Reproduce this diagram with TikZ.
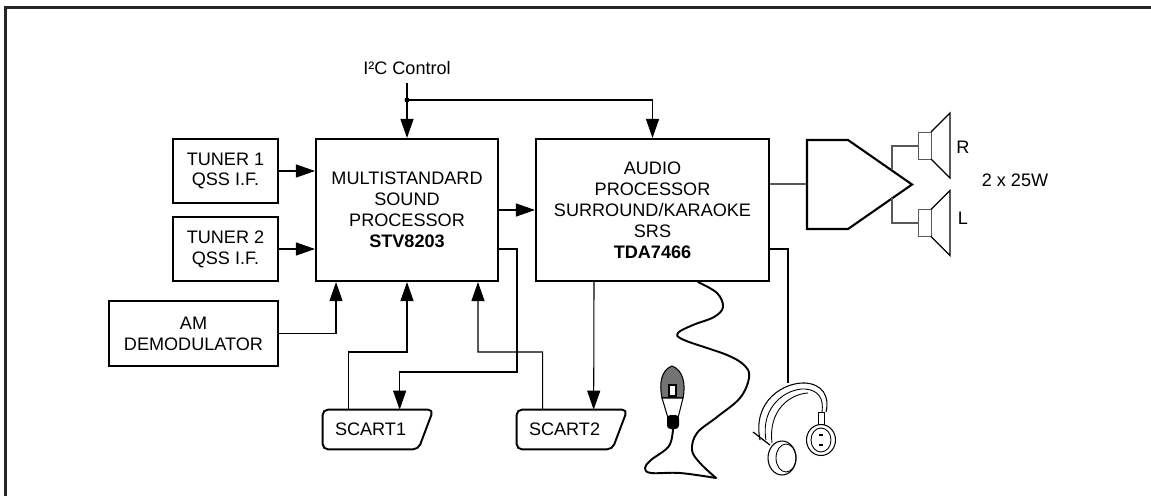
\documentclass[tikz,border=0pt]{standalone}
\usepackage{fontspec}
\setmainfont{Liberation Sans}
\usetikzlibrary{arrows.meta}

% outline of a scart plug round a node
\newcommand{\scartoutline}[1]{%
  \draw[line width=1.1pt, rounded corners=3pt] (#1.west) -- (#1.north west) -- (#1.north east)
    -- ([xshift=-0.3cm]#1.south east) -- (#1.south west) -- cycle;}

\begin{document}
\begin{tikzpicture}[x=0.02cm, y=-0.02cm,
    font=\fontsize{10.3}{11.9}\selectfont,
    blk/.style={draw, line width=1.2pt, align=center, inner sep=0pt},
    scart/.style={inner xsep=0pt, inner ysep=0pt, text width=2.2cm, align=left, minimum height=0.78cm},
    sig/.style={line width=0.6pt, -{Triangle[length=3.8mm,width=2.6mm]}},
    wire/.style={line width=0.6pt},
    cord/.style={line width=1.1pt, line cap=round, line join=round},
    spk/.pic={
      \draw[line width=0.5pt, black!65] (0,-13.5) rectangle (13,13.5);
      \draw[line width=0.7pt] (13,-13.5) -- (32,-32.5) -- (32,32.5) -- (13,13.5);
    }]
    \useasboundingbox (0,0) rectangle (1151,496);
    % frame
    \draw[line width=1.5pt, black!85] (5.3,496) -- (5.3,7.5) -- (1151,7.5);

    % blocks
    \node[blk, minimum width=2.1cm, minimum height=1.28cm] (tunerA) at (225.5,171) {TUNER 1\\QSS I.F.};
    \node[blk, minimum width=2.1cm, minimum height=1.28cm] (tunerB) at (225.5,249) {TUNER 2\\QSS I.F.};
    \node[blk, minimum width=3.38cm, minimum height=1.3cm] (amdem) at (193.5,333.5) {AM\\DEMODULATOR};
    \node[blk, minimum width=3.64cm, minimum height=2.84cm] (msp) at (407,210)
        {MULTISTANDARD\\SOUND\\PROCESSOR\\\textbf{STV8203}};
    \node[blk, minimum width=4.66cm, minimum height=2.84cm] (aproc) at (652.5,210)
        {AUDIO\\PROCESSOR\\SURROUND/KARAOKE\\SRS\\\textbf{TDA7466}};
    \node[inner sep=4.4pt] (i2c) at (407,68) {I²C Control};

    \node[scart] (scartA) at (378,429.5) {\hspace*{0.24cm}SCART1};
    \node[scart] (scartB) at (572,429.5) {\hspace*{0.24cm}SCART2};
    \scartoutline{scartA}
    \scartoutline{scartB}

    % inputs
    \draw[sig] (tunerA.east) -- (tunerA.east -| msp.west);
    \draw[sig] (tunerB.east) -- (tunerB.east -| msp.west);
    \draw[sig] (amdem.east) -| ([xshift=-1.42cm]msp.south);
    \draw[sig] (msp.east) -- (aproc.west);

    % I2C bus
    \coordinate (busdot) at (407,100);
    \draw[sig] (i2c.south) -- (msp.north);
    \fill (busdot) circle (2.5);
    \draw[sig] (busdot) -| (aproc.north);

    % scart connections
    \draw[sig] ([xshift=0.52cm]scartA.north west) |- (407,352) -- (msp.south);
    \draw[sig] ([xshift=0.52cm]scartB.north west) |- (478,352) -- ([xshift=1.42cm]msp.south);
    \draw[sig] ([yshift=-0.78cm]msp.east) -| (517,372) -| ([xshift=1.54cm]scartA.north west);
    \draw[sig] ([xshift=-1.17cm]aproc.south) -- ([xshift=1.54cm]scartB.north west);

    % power amplifier
    \draw[line width=1.2pt] (807,140) -- (848,140) -- (912,184.5) -- (848,229) -- (807,229) -- cycle;
    \coordinate (ampin) at (807,184);
    \draw[wire] ([yshift=0.52cm]aproc.east) -- (ampin);

    % loudspeakers
    \pic at (918,145.5) {spk};
    \pic at (918,223) {spk};
    \draw[wire, black!65] (892,170.3) |- (918,146);
    \draw[wire, black!65] (892,198) |- (918,223);
    \node (lblR) at (963,147) {R};
    \node (lblL) at (963,218) {L};
    \node (lblW) at (1015,180) {2 x 25W};

    % microphone
    \coordinate (cordtop) at ([xshift=0.91cm]aproc.south);
    \draw[cord] plot[smooth, tension=0.6] coordinates {(cordtop) (717,293) (723,307) (714,317) (693,325)
        (678,333) (684,340) (727,355) (745,366) (749,378) (740,398) (717,417) (697,433) (692,450)
        (700,463) (716,478)};
    \draw[cord] plot[smooth, tension=0.6] coordinates {(673,428) (669,446) (651,460) (645,468)
        (651,473) (680,473) (716,478)};
    \filldraw[fill=black!55, line width=0.6pt] (672,366) .. controls (661,370) and (659,384) .. (662,398)
        -- (683,398) .. controls (686,384) and (683,370) .. (672,366) -- cycle;
    \draw[fill=white, line width=0.6pt] (662,398) -- (668,418) -- (678,418) -- (683,398) -- cycle;
    \draw[fill=white, line width=0.6pt] (669,385) rectangle (676,396);
    \fill[rounded corners=2pt] (667,415) rectangle (679,429);

    % headphones
    \coordinate (phones) at (788,383);
    \draw[wire] ([yshift=-0.78cm]aproc.east) -| (phones);
    \draw[line width=0.6pt] (760,440) .. controls (752,400) and (785,382) .. (805,383)
        .. controls (822,384) and (830,396) .. (826,412);
    \draw[line width=0.5pt] (766,440) .. controls (760,405) and (788,388) .. (805,389)
        .. controls (818,390) and (824,398) .. (822,412);
    \draw[line width=0.5pt] (772,443) .. controls (768,410) and (790,394) .. (808,393);
    \draw[line width=0.5pt] (818,412) rectangle (824,426);
    \draw[line width=0.7pt] (753,432) -- (770,445);
    \draw[line width=0.6pt, fill=white] (782,458) ellipse [x radius=14, y radius=17];
    \draw[line width=0.5pt] (786,458) ellipse [x radius=10, y radius=14];
    \draw[line width=0.6pt, fill=white] (821,440) ellipse [x radius=14.5, y radius=15.5];
    \draw[line width=0.5pt] (821,440) ellipse [x radius=10, y radius=12];
    \draw[line width=0.6pt] (819,435) -- (823,435) (819,445) -- (823,445);
\end{tikzpicture}
\end{document}
